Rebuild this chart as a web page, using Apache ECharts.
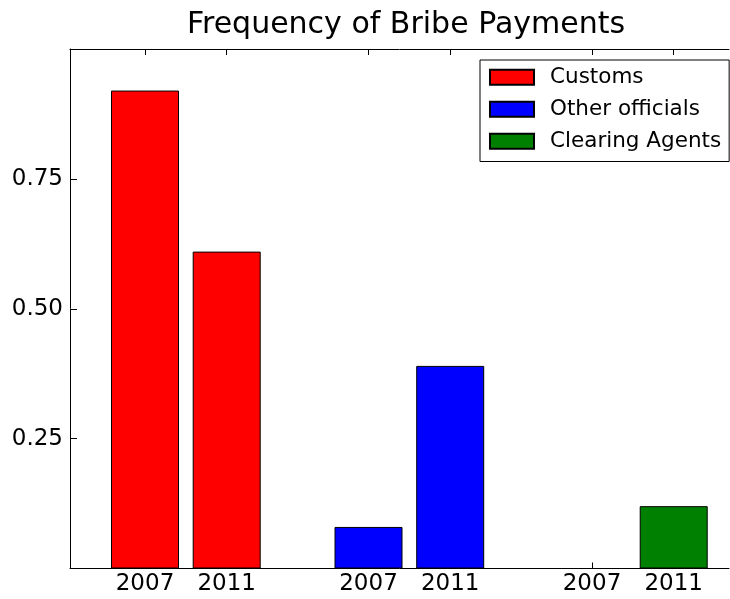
<!DOCTYPE html>
<html>
<head>
<meta charset="utf-8">
<title>Frequency of Bribe Payments</title>
<script src="https://cdn.jsdelivr.net/npm/echarts@6/dist/echarts.min.js"></script>
<style>
  html, body { margin: 0; padding: 0; background: #fff; }
  #chart { width: 730px; height: 599px; }
</style>
</head>
<body>
<div id="chart"></div>
<script>
// Survey years shown under each group of bars
const years = ['2007', '2011'];
// Who the bribes were paid to
const recipients = ['Customs', 'Other officials', 'Clearing Agents'];
// Share of firms reporting bribe payments, per year
const customs = [0.92, 0.61];
const otherOfficials = [0.08, 0.39];
const clearingAgents = [0, 0.12];
// Labelled ticks on the value axis
const yTicks = [0.25, 0.5, 0.75];

const seriesValues = [customs, otherOfficials, clearingAgents];
const colors = ['#ff0000', '#0000ff', '#008000'];

// Horizontal layout: bars of one recipient sit side by side, groups spaced apart.
// The plot runs on past the right edge of the page, so only part of it shows.
const YEAR_STEP = 1;
const GROUP_STEP = 2.7356;
const X_MIN = -0.918;
const X_MAX = 7.148;

const xPositions = [];
const xLabels = [];
recipients.forEach(function (_, g) {
  years.forEach(function (yr, j) {
    xPositions.push(g * GROUP_STEP + j * YEAR_STEP);
    xLabels.push(yr);
  });
});

function labelFor(v) {
  let best = 0;
  for (let i = 1; i < xPositions.length; i++) {
    if (Math.abs(xPositions[i] - v) < Math.abs(xPositions[best] - v)) best = i;
  }
  return xLabels[best];
}

const FONT = 'DejaVu Sans';

const series = recipients.map(function (name, g) {
  return {
    name: name,
    type: 'bar',
    xAxisIndex: 0,
    yAxisIndex: 0,
    barWidth: 68,
    barGap: '-100%',
    itemStyle: { color: colors[g], borderColor: '#000', borderWidth: 1 },
    emphasis: { disabled: true },
    data: seriesValues[g].map(function (v, j) {
      return [g * GROUP_STEP + j * YEAR_STEP, v];
    })
  };
});

const chart = echarts.init(document.getElementById('chart'), null, { renderer: 'canvas' });

chart.setOption({
  animation: false,
  backgroundColor: '#fff',
  textStyle: { fontFamily: FONT, color: '#000' },
  title: {
    text: 'Frequency of Bribe Payments',
    left: 406,
    textAlign: 'center',
    top: 10,
    padding: 0,
    textStyle: { fontFamily: FONT, fontSize: 30, fontWeight: 'normal', color: '#000' }
  },
  legend: {
    data: recipients,
    orient: 'vertical',
    left: 480,
    top: 60,
    padding: [6.25, 8, 9.25, 9],
    itemWidth: 44,
    itemHeight: 15,
    itemGap: 10,
    icon: 'rect',
    backgroundColor: '#fff',
    borderColor: '#000',
    borderWidth: 1,
    selectedMode: false,
    textStyle: {
      fontFamily: FONT,
      fontSize: 21.5,
      lineHeight: 21.5,
      color: '#000',
      padding: [0, 0, 0, 11]
    }
  },
  grid: {
    left: 70,
    top: 49,
    width: 659,
    height: 519.5,
    show: false
  },
  xAxis: [
    {
      type: 'value',
      position: 'bottom',
      min: X_MIN,
      max: X_MAX,
      splitLine: { show: false },
      axisLine: { show: true, onZero: false, lineStyle: { color: '#000', width: 1 } },
      axisTick: {
        show: true, inside: true, length: 6,
        customValues: xPositions,
        lineStyle: { color: '#000' }
      },
      axisLabel: {
        show: true,
        customValues: xPositions,
        formatter: labelFor,
        fontFamily: FONT,
        fontSize: 23,
        color: '#000',
        margin: 4
      }
    },
    {
      type: 'value',
      position: 'top',
      min: X_MIN,
      max: X_MAX,
      splitLine: { show: false },
      axisLine: { show: true, onZero: false, lineStyle: { color: '#000', width: 1 } },
      axisTick: {
        show: true, inside: true, length: 6,
        customValues: xPositions,
        lineStyle: { color: '#000' }
      },
      axisLabel: { show: false }
    }
  ],
  yAxis: [
    {
      type: 'value',
      position: 'left',
      min: 0,
      max: 1,
      splitLine: { show: false },
      axisLine: { show: true, onZero: false, lineStyle: { color: '#000', width: 1 } },
      axisTick: {
        show: true, inside: true, length: 7,
        customValues: yTicks,
        lineStyle: { color: '#000' }
      },
      axisLabel: {
        show: true,
        customValues: yTicks,
        formatter: function (v) { return v.toFixed(2); },
        fontFamily: FONT,
        fontSize: 23,
        color: '#000',
        margin: 7,
        padding: [4, 0, 0, 0]
      }
    }
  ],
  series: series
});
</script>
</body>
</html>
